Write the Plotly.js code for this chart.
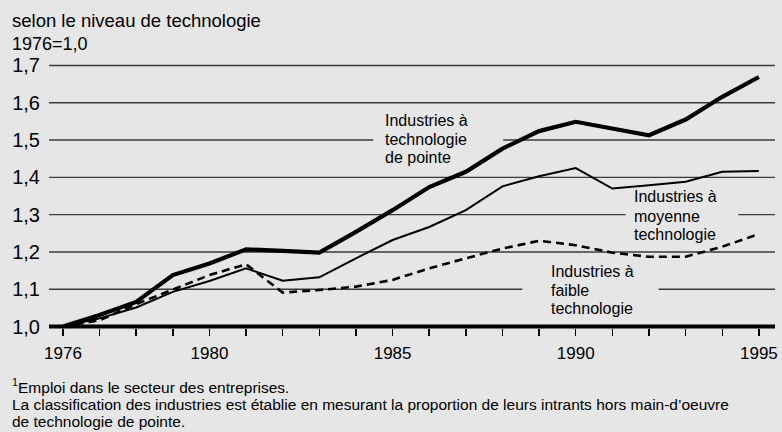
<!DOCTYPE html>
<html>
<head>
<meta charset="utf-8">
<script src="https://cdn.plot.ly/plotly-3.0.1.min.js"></script>
<style>
  html, body { margin: 0; padding: 0; background: #e6e6e6; }
  #chart { width: 782px; height: 432px; }
</style>
</head>
<body>
<div id="chart"></div>
<script>
// ---- data ----
const years = [1976, 1977, 1978, 1979, 1980, 1981, 1982, 1983, 1984, 1985,
               1986, 1987, 1988, 1989, 1990, 1991, 1992, 1993, 1994, 1995];
const highTech   = [1.000, 1.031, 1.066, 1.138, 1.169, 1.207, 1.203, 1.198, 1.254, 1.312,
                    1.374, 1.415, 1.477, 1.524, 1.549, 1.531, 1.513, 1.555, 1.616, 1.669];
const mediumTech = [1.000, 1.022, 1.051, 1.093, 1.122, 1.156, 1.123, 1.132, 1.183, 1.232,
                    1.267, 1.312, 1.376, 1.403, 1.425, 1.370, 1.379, 1.388, 1.415, 1.417];
const lowTech    = [1.000, 1.017, 1.060, 1.100, 1.138, 1.167, 1.091, 1.098, 1.107, 1.125,
                    1.156, 1.183, 1.209, 1.230, 1.218, 1.198, 1.187, 1.187, 1.214, 1.248];

const yTickVals = [1.0, 1.1, 1.2, 1.3, 1.4, 1.5, 1.6, 1.7];
const yTickText = ['1,0', '1,1', '1,2', '1,3', '1,4', '1,5', '1,6', '1,7'];
const xLabelYears = [1976, 1980, 1985, 1990, 1995];

const labelHigh   = ['Industries à', 'technologie', 'de pointe'];
const labelMedium = ['Industries à', 'moyenne', 'technologie'];
const labelLow    = ['Industries à', 'faible', 'technologie'];

const titleLine1 = 'selon le niveau de technologie';
const titleLine2 = '1976=1,0';
const footnotes = [
  '<sup>1</sup>Emploi dans le secteur des entreprises.',
  'La classification des industries est établie en mesurant la proportion de leurs intrants hors main-d\u2019oeuvre',
  'de technologie de pointe.'
];

// ---- layout geometry ----
const W = 782, H = 432;
const M = {l: 49, r: 7, t: 58, b: 98};
const plotW = W - M.l - M.r, plotH = H - M.t - M.b;
const xRange = [1975.62, 1995.44];
const yRange = [0.98, 1.72];
const FONT = 'Liberation Sans, Arial, Helvetica, sans-serif';

function pxX(px) { return (px - M.l) / plotW; }
function pxY(py) { return (H - M.b - py) / plotH; }

const traces = [
  {x: years, y: lowTech, mode: 'lines', line: {color: '#000', width: 2.6, dash: '8px,5px'}},
  {x: years, y: mediumTech, mode: 'lines', line: {color: '#000', width: 2}},
  {x: years, y: highTech, mode: 'lines', line: {color: '#000', width: 4.2}}
];

// gridlines with breaks behind the series labels
const gaps = {1.5: [1984.47, 1988.02], 1.3: [1991.36, 1994.44], 1.1: [1988.54, 1992.26]};
const shapes = [];
yTickVals.forEach(v => {
  if (v === 1.0) return;
  const g = gaps[v];
  const segs = g ? [[xRange[0], g[0]], [g[1], xRange[1]]] : [[xRange[0], xRange[1]]];
  segs.forEach(s => shapes.push({
    type: 'line', xref: 'x', yref: 'y', x0: s[0], x1: s[1], y0: v, y1: v,
    line: {color: '#3a3a3a', width: 1.4}, layer: 'below'
  }));
});
shapes.push({type: 'line', xref: 'x', yref: 'y', x0: xRange[0], x1: xRange[1], y0: 1.0, y1: 1.0,
             line: {color: '#000', width: 4}, layer: 'below'});

const annotations = [];
function addLabel(lines, xYear, yVals) {
  lines.forEach((t, i) => annotations.push({
    text: t, xref: 'x', yref: 'y', x: xYear, y: yVals[i], xanchor: 'left', yanchor: 'middle',
    showarrow: false, font: {family: FONT, size: 16, color: '#000'}
  }));
}
addLabel(labelHigh, 1984.74, [1.552, 1.502, 1.452]);
addLabel(labelMedium, 1991.54, [1.348, 1.296, 1.247]);
addLabel(labelLow, 1989.27, [1.147, 1.096, 1.048]);

annotations.push({text: titleLine1, xref: 'paper', yref: 'paper', x: pxX(10), y: pxY(20),
  xanchor: 'left', yanchor: 'middle', showarrow: false, font: {family: FONT, size: 18.5, color: '#000'}});
annotations.push({text: titleLine2, xref: 'paper', yref: 'paper', x: pxX(10), y: pxY(44),
  xanchor: 'left', yanchor: 'middle', showarrow: false, font: {family: FONT, size: 18, color: '#000'}});

const footY = [386, 404.5, 421.5];
footnotes.forEach((t, i) => annotations.push({
  text: t, xref: 'paper', yref: 'paper', x: pxX(10), y: pxY(footY[i]),
  xanchor: 'left', yanchor: 'middle', showarrow: false, font: {family: FONT, size: 15.5, color: '#000'}
}));

const layout = {
  width: W, height: H, margin: M,
  paper_bgcolor: '#e6e6e6', plot_bgcolor: '#e6e6e6',
  showlegend: false,
  font: {family: FONT, color: '#000'},
  xaxis: {
    range: xRange, anchor: 'free', position: 6 / plotH,
    tickvals: years, ticktext: years.map(y => xLabelYears.includes(y) ? String(y) : ''),
    ticks: 'outside', ticklen: 7, tickwidth: 1.5, tickcolor: '#000',
    showgrid: false, zeroline: false, showline: false,
    tickfont: {family: FONT, size: 17, color: '#000'}, ticklabelstandoff: 3
  },
  yaxis: {
    range: yRange, tickvals: yTickVals, ticktext: yTickText,
    ticks: '', showgrid: false, zeroline: false, showline: false,
    tickfont: {family: FONT, size: 20, color: '#000'}, ticklabelstandoff: 8
  },
  shapes: shapes,
  annotations: annotations
};

Plotly.newPlot('chart', traces, layout, {staticPlot: true, displayModeBar: false});
</script>
</body>
</html>
